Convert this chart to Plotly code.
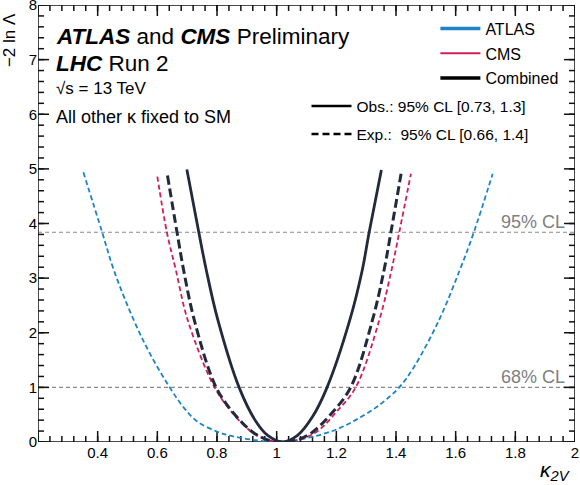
import plotly.graph_objects as go

# kappa_2V scan points: -2 ln Lambda
atlas_x = [0.352, 0.415, 0.454, 0.521, 0.578, 0.645, 0.69, 0.733, 0.80, 0.848, 0.926, 1.02,
           1.107, 1.196, 1.264, 1.33, 1.372, 1.411, 1.46, 1.544, 1.614, 1.661, 1.724]
atlas_y = [4.94, 3.84, 3.15, 2.23, 1.59, 0.97, 0.62, 0.38, 0.19, 0.11, 0.035, 0.00,
           0.08, 0.22, 0.40, 0.62, 0.80, 1.00, 1.37, 2.23, 3.15, 3.84, 4.91]

cms_x = [0.600, 0.632, 0.662, 0.702, 0.792, 0.86, 0.92, 0.97, 1.02, 1.08, 1.14,
         1.20, 1.265, 1.344, 1.385, 1.411, 1.450]
cms_y = [4.86, 3.84, 3.15, 2.23, 1.00, 0.48, 0.17, 0.04, 0.00, 0.05, 0.21,
         0.55, 1.00, 2.23, 3.15, 3.84, 4.91]

comb_exp_x = [0.634, 0.666, 0.688, 0.724, 0.797, 0.86, 0.92, 0.97, 1.02, 1.07, 1.12,
              1.18, 1.248, 1.321, 1.360, 1.383, 1.417]
comb_exp_y = [4.88, 3.84, 3.15, 2.23, 1.00, 0.50, 0.18, 0.04, 0.00, 0.04, 0.18,
              0.50, 1.00, 2.23, 3.15, 3.84, 4.91]

comb_obs_x = [0.699, 0.739, 0.764, 0.803, 0.874, 0.93, 0.97, 1.02, 1.07, 1.12,
              1.169, 1.245, 1.287, 1.310, 1.351]
comb_obs_y = [4.99, 3.84, 3.15, 2.23, 1.00, 0.38, 0.12, 0.00, 0.12, 0.46,
              1.00, 2.23, 3.15, 3.84, 4.98]

cl_levels = [1.0, 3.84]
cl_labels = ['68% CL', '95% CL']

x_ticks = [0.4, 0.6, 0.8, 1.0, 1.2, 1.4, 1.6, 1.8, 2.0]
x_ticktext = ['0.4', '0.6', '0.8', '1', '1.2', '1.4', '1.6', '1.8', '2']
y_ticks = [0, 1, 2, 3, 4, 5, 6, 7, 8]

x_range = [0.2, 2.0]
y_range = [0, 8]

blue = '#1a84c7'
red = '#d31d5b'
navy = '#232a3d'
font = 'Liberation Sans, Arial, Helvetica, sans-serif'

W, H = 580, 485
margin = dict(l=38, r=5, t=5, b=43)

fig = go.Figure()

# CL reference lines
for lvl in cl_levels:
    fig.add_hline(y=lvl, line=dict(color='#8a8a8a', width=1.2, dash='4px,3px'), layer='below')

# frame + ROOT-style inside ticks on all four sides, as plain python floats
dx = (x_range[1] - x_range[0]) / (W - margin['l'] - margin['r'])   # data units per px
dy = (y_range[1] - y_range[0]) / (H - margin['t'] - margin['b'])
x_major = [round(x_range[0] + 0.2 * i, 3) for i in range(10)]
x_minor = [round(x_range[0] + 0.04 * i, 3) for i in range(46)]
y_major = [float(v) for v in range(9)]
y_minor = [round(0.2 * i, 3) for i in range(41)]

frame = dict(color='#111111', width=1.5)
fig.add_shape(type='rect', xref='x', yref='y', x0=x_range[0], x1=x_range[1],
              y0=y_range[0], y1=y_range[1], line=frame, layer='below')
for vals, ln in [(x_minor, 6), (x_major, 11)]:
    for v in vals:
        fig.add_shape(type='line', xref='x', yref='y', x0=v, x1=v, y0=y_range[0],
                      y1=y_range[0] + ln * dy, line=frame, layer='below')
        fig.add_shape(type='line', xref='x', yref='y', x0=v, x1=v, y0=y_range[1],
                      y1=y_range[1] - ln * dy, line=frame, layer='below')
for vals, ln in [(y_minor, 6), (y_major, 11)]:
    for v in vals:
        fig.add_shape(type='line', xref='x', yref='y', y0=v, y1=v, x0=x_range[0],
                      x1=x_range[0] + ln * dx, line=frame, layer='below')
        fig.add_shape(type='line', xref='x', yref='y', y0=v, y1=v, x0=x_range[1],
                      x1=x_range[1] - ln * dx, line=frame, layer='below')

# expected / observed curves
fig.add_trace(go.Scatter(x=atlas_x, y=atlas_y, mode='lines', line_shape='spline',
                         line=dict(color=blue, width=1.8, dash='5px,3px'), showlegend=False))
fig.add_trace(go.Scatter(x=cms_x, y=cms_y, mode='lines', line_shape='spline',
                         line=dict(color=red, width=1.8, dash='5px,3px'), showlegend=False))
fig.add_trace(go.Scatter(x=comb_exp_x, y=comb_exp_y, mode='lines', line_shape='spline',
                         line=dict(color=navy, width=3, dash='9px,4px'), showlegend=False))
fig.add_trace(go.Scatter(x=comb_obs_x, y=comb_obs_y, mode='lines', line_shape='spline',
                         line=dict(color=navy, width=2.8), showlegend=False))

# legend entries
for name, col, w in [('ATLAS', blue, 3.5), ('CMS', red, 2.2), ('Combined', 'black', 3.5)]:
    fig.add_trace(go.Scatter(x=[None], y=[None], mode='lines', name=name,
                             line=dict(color=col, width=w), legend='legend', legendgroup=name))
fig.add_trace(go.Scatter(x=[None], y=[None], mode='lines', name='Obs.: 95% CL [0.73, 1.3]',
                         line=dict(color='black', width=2.5), legend='legend2', legendgroup='obs'))
fig.add_trace(go.Scatter(x=[None], y=[None], mode='lines', name='Exp.:  95% CL [0.66, 1.4]',
                         line=dict(color='black', width=2.5, dash='7px,4px'), legend='legend2',
                         legendgroup='exp'))

fig.update_layout(
    width=W, height=H,
    margin=margin,
    plot_bgcolor='white', paper_bgcolor='white',
    font=dict(family=font, color='black'),
    legend=dict(x=0.74, y=0.985, xanchor='left', yanchor='top', bgcolor='rgba(0,0,0,0)',
                font=dict(size=16), traceorder='grouped', tracegroupgap=1, itemwidth=40),
    legend2=dict(x=0.5, y=0.807, xanchor='left', yanchor='top', bgcolor='rgba(0,0,0,0)',
                 font=dict(size=15.5), traceorder='grouped', tracegroupgap=5, itemwidth=40),
)

fig.update_xaxes(range=x_range, tickmode='array', tickvals=x_ticks, ticktext=x_ticktext,
                 showline=False, ticks='', showgrid=False, zeroline=False, automargin=False,
                 tickfont=dict(size=15), ticklabeloverflow='allow')
fig.update_yaxes(range=y_range, tickmode='array', tickvals=y_ticks,
                 showline=False, ticks='', showgrid=False, zeroline=False, automargin=False,
                 tickfont=dict(size=15), ticklabeloverflow='allow')

notes = [
    ("<b><i>ATLAS</i></b> and <b><i>CMS</i></b> Preliminary", 22.5, 0.927),
    ("<b><i>LHC</i></b> Run 2", 22.5, 0.867),
    ("\u221as = 13 TeV", 17, 0.808),
    ("All other \u03ba fixed to SM", 18, 0.744),
]
for txt, size, yy in notes:
    fig.add_annotation(text=txt, xref='paper', yref='paper', x=0.029, y=yy,
                       xanchor='left', yanchor='middle', showarrow=False,
                       font=dict(size=size, color='black'))

for lvl, lab in zip(cl_levels, cl_labels):
    fig.add_annotation(text=lab, xref='paper', yref='y', x=0.985, y=lvl,
                       xanchor='right', yanchor='bottom', showarrow=False, yshift=-2,
                       font=dict(size=18, color='#808080'))

# axis titles
fig.add_annotation(text='\u22122 ln \u039b', xref='paper', yref='paper', x=-0.053, y=0.985,
                   xanchor='center', yanchor='top', textangle=-90, showarrow=False,
                   font=dict(size=17, color='black'))
fig.add_annotation(text='<i>\u03ba<sub>2V</sub></i>', xref='paper', yref='paper', x=0.995,
                   y=-0.066, xanchor='right', yanchor='middle', showarrow=False,
                   font=dict(size=21, color='black'))

# page body has a default margin; drop it so the 580x485 figure fills the window
fig.write_html("out.html", config={'displayModeBar': False},
               post_script="document.body.style.margin='0';")
